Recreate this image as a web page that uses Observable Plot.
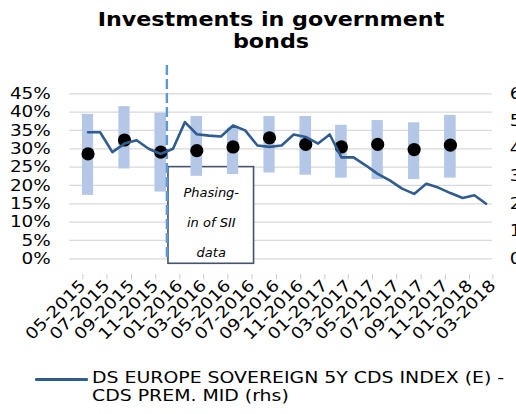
<!DOCTYPE html>
<html><head><meta charset="utf-8">
<script src="https://cdn.jsdelivr.net/npm/d3@7"></script>
<script src="https://cdn.jsdelivr.net/npm/@observablehq/plot@0.6"></script>
<style>
html,body{margin:0;padding:0;overflow:hidden;background:#fff;width:516px;height:414px;}
#wrap{position:relative;width:516px;height:414px;font-family:"DejaVu Sans",Verdana,sans-serif;color:#000;overflow:hidden;}
#title{position:absolute;left:0;top:9.2px;width:542px;text-align:center;font-weight:bold;font-size:19px;line-height:21.5px;transform:scaleX(1.17);transform-origin:271px 0;}
#chart{position:absolute;left:0;top:55px;}
#legend{position:absolute;left:0;top:355px;width:516px;height:59px;}
#swatch{position:absolute;left:35px;top:22.5px;width:53px;height:3px;background:#2f5d8f;border-radius:1px;}
#legtext{position:absolute;left:92px;top:13.8px;font-size:16px;line-height:18.3px;white-space:nowrap;transform:scaleX(1.18);transform-origin:0 0;}
</style>
</head><body>
<div id="wrap">
  <div id="title">Investments in government<br>bonds</div>
  <div id="chart"></div>
  <div id="legend"><div id="swatch"></div><div id="legtext">DS EUROPE SOVEREIGN 5Y CDS INDEX (E) -<br>CDS PREM. MID (rhs)</div></div>
</div>
<script>
// ---- data ----
const cdsMonths = ["2015-06","2015-07","2015-08","2015-09","2015-10","2015-11","2015-12",
  "2016-01","2016-02","2016-03","2016-04","2016-05","2016-06","2016-07","2016-08","2016-09","2016-10","2016-11","2016-12",
  "2017-01","2017-02","2017-03","2017-04","2017-05","2017-06","2017-07","2017-08","2017-09","2017-10","2017-11","2017-12",
  "2018-01","2018-02","2018-03"];
const cdsIndex = [46.0,46.0,38.8,41.9,43.1,40.0,38.1,
  40.0,49.7,45.3,44.8,44.5,48.5,46.7,41.2,40.7,41.2,45.2,44.3,
  41.9,45.2,36.9,36.9,34.0,30.9,28.5,25.5,23.6,27.3,25.9,23.9,
  22.1,23.1,20.0];
const quarters = ["2015-06","2015-09","2015-12","2016-03","2016-06","2016-09","2016-12","2017-03","2017-06","2017-09","2017-12"];
const shareLow    = [17.3,24.5,18.2,22.5,23.0,23.4,22.8,22.0,21.6,21.6,22.0];
const shareHigh   = [39.4,41.5,39.7,38.8,35.7,38.8,38.8,36.4,37.7,37.1,39.1];
const shareMedian = [28.6,32.4,29.1,29.5,30.5,33.0,31.2,30.5,31.2,29.8,31.0];
const xTickMonths = ["2015-05","2015-07","2015-09","2015-11","2016-01","2016-03","2016-05","2016-07","2016-09",
  "2016-11","2017-01","2017-03","2017-05","2017-07","2017-09","2017-11","2018-01","2018-03"];
const yTicks = [0,5,10,15,20,25,30,35,40,45];
const rhsTicks = [0,10,20,30,40,50,60];
const xDomain = ["2015-05","2018-04"];
const phaseInMonth = "2016-01";
const phaseBox = {start:"2016-01-05", end:"2016-08-08", bottom:-1.36, top:25, mid:"2016-04-22", textY:11.2,
  text:"Phasing-\nin of SII\ndata"};

// ---- helpers ----
const pm = d3.utcParse("%Y-%m");
const pd = d3.utcParse("%Y-%m-%d");
const mid = m => { const s = pm(m); return new Date((+s + +d3.utcMonth.offset(s,1))/2); };
const yMax = 45, rhsMax = 60;
const toLeft = v => v * yMax / rhsMax;

const lineData = cdsMonths.map((m,i) => ({date: mid(m), v: toLeft(cdsIndex[i])}));
const barData = quarters.map((q,i) => ({start: pm(q), end: d3.utcMonth.offset(pm(q),1), date: mid(q),
  low: shareLow[i], high: shareHigh[i], med: shareMedian[i]}));

const chart = Plot.plot({
  width: 516, height: 300,
  marginLeft: 69.3, marginRight: 24.3, marginTop: 38.3, marginBottom: 96.7,
  style: {fontFamily: "'DejaVu Sans', Verdana, sans-serif", fontSize: "16px", color: "#000", background: "transparent"},
  x: {type: "utc", domain: xDomain.map(pm)},
  y: {domain: [0, yMax]},
  marks: [
    Plot.gridY(yTicks, {stroke: "#d9d9d9", strokeOpacity: 1, strokeWidth: 1.2}),
    Plot.rect([phaseBox], {x1: d => pd(d.start), x2: d => pd(d.end), y1: "bottom", y2: "top",
      fill: "white", stroke: "#44546a", strokeWidth: 1.6}),
    Plot.rectY(barData, {x1: "start", x2: "end", y1: "low", y2: "high", fill: "#b4c7e7", insetLeft: 0.35, insetRight: 0.35}),
    Plot.ruleX([pm(phaseInMonth)], {y1: 52.7, y2: -0.3, stroke: "#5b9bd5", strokeWidth: 2.4, strokeDasharray: "10,4"}),
    Plot.text([phaseBox], {x: d => pd(d.mid), y: "textY", text: "text", fontStyle: "italic", fontSize: 13, lineHeight: 2.3, fill: "#000"}),
    Plot.dot(barData, {x: "date", y: "med", r: 6.6, fill: "#000", stroke: null}),
    Plot.line(lineData, {x: "date", y: "v", stroke: "#2f5d8f", strokeWidth: 2.6}),
    Plot.axisY(yTicks, {tickSize: 0, tickPadding: 19, tickFormat: d => d + "%", label: null, fill: "#000"}),
    Plot.axisY(rhsTicks.map(toLeft), {anchor: "right", tickSize: 0, tickPadding: 17.5,
      tickFormat: d => String(Math.round(d * rhsMax / yMax)), label: null, fill: "#000"}),
    Plot.axisX(xTickMonths.map(pm), {tickFormat: d3.utcFormat("%m-%Y"), tickRotate: -45, tickSize: 5, tickPadding: 3,
      stroke: "#c8c8c8", fill: "#000", label: null, dx: 13, dy: 16})
  ]
});
document.getElementById("chart").appendChild(chart);
// widen axis labels to match the reference's wide lettering
chart.querySelectorAll('g[aria-label$="tick label"] text').forEach(t => {
  const w = t.getComputedTextLength();
  t.setAttribute("textLength", (w * 1.15).toFixed(1));
  t.setAttribute("lengthAdjust", "spacingAndGlyphs");
});
</script>
</body></html>
